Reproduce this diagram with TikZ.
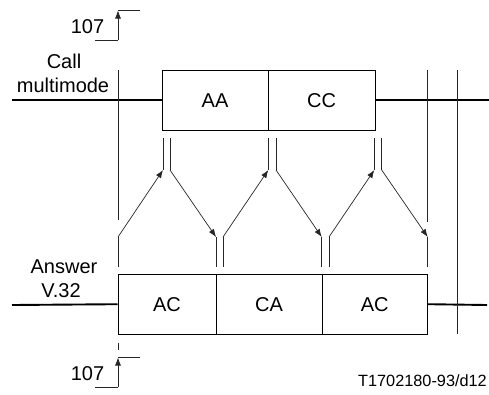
\documentclass[tikz,border=0pt]{standalone}
\usepackage{fontspec}
\setmainfont{Liberation Sans}
\usetikzlibrary{arrows.meta}
\begin{document}
\begin{tikzpicture}[x=1pt,y=-1pt,
  box/.style={draw=black, line width=0.9pt, rectangle, inner sep=0pt, minimum height=60pt, font=\fontsize{20}{24}\selectfont},
  sig/.style={line width=1.9pt},
  divider/.style={line width=1.6pt},
  thinv/.style={draw=black!85, line width=0.7pt},
  arr/.style={draw=black!85, line width=0.7pt, -{Latex[length=8pt,width=6pt]}},
  lbl/.style={font=\fontsize{20}{24}\selectfont, inner sep=0pt, anchor=base}]
\useasboundingbox (0,0) rectangle (489,394);
% boxes
\node[box, minimum width=106pt] (AA) at (215,100.3) {AA};
\node[box, minimum width=107pt] (CC) at (321.5,100.3) {CC};
\node[box, minimum width=98pt] (AC1) at (167,304.2) {AC};
\node[box, minimum width=106pt] (CA) at (269,304.2) {CA};
\node[box, minimum width=105.5pt] (AC2) at (374.75,304.2) {AC};
\draw[divider] (AA.north east) -- (AA.south east);
\draw[divider] (AC1.north east) -- (AC1.south east);
\draw[divider] (CA.north east) -- (CA.south east);
% signal lines
\coordinate (cL) at (12,100.3);
\coordinate (cR) at (489,100.3);
\coordinate (aL) at (12,305);
\coordinate (aR) at (487,305);
\draw[sig] (cL) -- (AA.west);
\draw[sig] (CC.east) -- (cR);
\draw[sig] (aL) -- (AC1.west);
\draw[sig] (AC2.east) -- (aR);
% labels
\node[lbl] (call) at (64,68) {Call};
\node[lbl] (mm) at (63,92) {multimode};
\node[lbl] (ans) at (64,273.5) {Answer};
\node[lbl] (v32) at (61,297.5) {V.32};
\node[lbl] (n107a) at (87.5,33) {107};
\node[lbl] (n107b) at (87.5,380) {107};
\node[lbl, anchor=base east, font=\fontsize{16.3}{20}\selectfont] (ref) at (487,386.5) {T1702180-93/d12};
% 107 markers
\coordinate (ta1) at (95,40);
\coordinate (ta2) at (118,40);
\coordinate (ta3) at (118,10.5);
\coordinate (ta4) at (118,10);
\coordinate (ta5) at (140,10);
\draw[thinv] (ta1) -- (ta2);
\draw[arr] (ta2) -- (ta3);
\draw[thinv] (ta4) -- (ta5);
\coordinate (tb1) at (95,387);
\coordinate (tb2) at (118,387);
\coordinate (tb3) at (118,357.5);
\coordinate (tb4) at (118,357);
\coordinate (tb5) at (140,357);
\draw[thinv] (tb1) -- (tb2);
\draw[arr] (tb2) -- (tb3);
\draw[thinv] (tb4) -- (tb5);
\coordinate (dk1) at (118,343);
\coordinate (dk2) at (118,350);
\draw[thinv] (dk1) -- (dk2);
% long verticals
\coordinate (v1t) at (118,70);   \coordinate (v1b) at (118,220);
\coordinate (v2t) at (427.7,70); \coordinate (v2b) at (427.7,221.5);
\coordinate (v3t) at (457.7,70); \coordinate (v3b) at (457.7,334);
\draw[thinv] (v1t) -- (v1b);
\draw[thinv] (v2t) -- (v2b);
\draw[thinv] (v3t) -- (v3b);
% up and down transitions
\foreach \n/\x in {a/163, b/170, c/268.3, d/276, e/374.3, f/381.7} {
  \coordinate (u\n t) at (\x,138);
  \coordinate (u\n b) at (\x,170);
  \draw[thinv] (u\n t) -- (u\n b);
}
\foreach \n/\x in {a/118, b/216, c/223, d/321.7, e/329, f/427.7} {
  \coordinate (l\n t) at (\x,237);
  \coordinate (l\n b) at (\x,267);
  \draw[thinv] (l\n t) -- (l\n b);
}
\draw[arr] (lat) -- (uab);
\draw[arr] (ubb) -- (lbt);
\draw[arr] (lct) -- (ucb);
\draw[arr] (udb) -- (ldt);
\draw[arr] (let) -- (ueb);
\draw[arr] (ufb) -- (lft);
\end{tikzpicture}
\end{document}
